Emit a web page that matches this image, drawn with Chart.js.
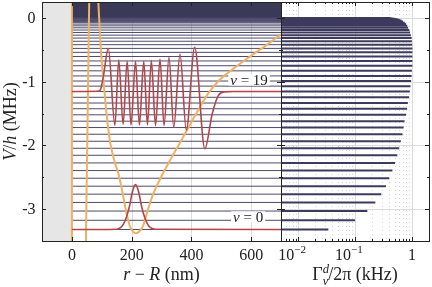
<!DOCTYPE html>
<html>
<head>
<meta charset="utf-8">
<title>bound levels and decay rates</title>
<script src="https://cdn.jsdelivr.net/npm/chart.js@4.4.1/dist/chart.umd.min.js"></script>
<style>
  html, body { margin: 0; padding: 0; background: #fff; }
  #wrap { position: relative; width: 432px; height: 287px; }
  #wrap canvas { position: absolute; left: 0; top: 0; }
</style>
</head>
<body>
<div id="wrap">
  <canvas id="pot" width="432" height="287"></canvas>
  <canvas id="rates" width="432" height="287"></canvas>
</div>
<script>
// bound level energies V/h (MHz), nu = 0, 1, 2, ...
const levelEnergy = [
  -3.32, -3.175, -3.03, -2.895, -2.765, -2.64, -2.515, -2.395, -2.275, -2.155,
  -2.045, -1.935, -1.825, -1.72, -1.62, -1.52, -1.425, -1.335, -1.245, -1.155,
  -1.07, -0.99, -0.91, -0.83, -0.75, -0.675, -0.605, -0.54, -0.478, -0.42,
  -0.366, -0.316, -0.27, -0.228, -0.19, -0.155, -0.124, -0.097, -0.074, -0.055,
  -0.04, -0.028, -0.019, -0.012, -0.007, -0.003
];
// decay rate Gamma_nu^d / 2pi (kHz) of each level
const levelRate = [
  0.034, 0.10, 0.165, 0.228, 0.29, 0.35, 0.40, 0.455, 0.505, 0.555,
  0.60, 0.64, 0.685, 0.715, 0.745, 0.79, 0.825, 0.85, 0.895, 0.92,
  0.945, 0.97, 0.99, 1.0, 1.02, 1.02, 1.02, 1.02, 1.02, 1.01,
  1.0, 0.99, 0.96, 0.93, 0.9, 0.86, 0.83, 0.79, 0.75, 0.70,
  0.66, 0.61, 0.56, 0.51, 0.46, 0.42
];

// potential: surface at r = 0, steep inner wall, then the well
const surfaceR = [0, 0];
const surfaceV = [-3.5, 0.25];
const wallR = [47, 58];
const wallV = [-3.5, 0.25];
const wellR = [88.5, 97, 106, 116, 127, 140, 158, 170, 180, 194, 204, 214, 224, 238, 255, 275, 300, 330, 361, 395, 428, 460, 495, 545, 595, 650, 700];
const wellV = [0.25, -0.5, -1.0, -1.5, -1.92, -2.2, -2.485, -2.75, -3.0, -3.265, -3.35, -3.38, -3.355, -3.265, -3.0, -2.73, -2.485, -2.22, -1.966, -1.68, -1.40, -1.16, -0.97, -0.78, -0.61, -0.43, -0.255];

// wavefunctions drawn on their level
const psi0R = [0, 150, 163, 173, 183, 193, 203, 213, 223, 233, 243, 253, 263, 280, 700];
const psi0V = [-3.32, -3.315, -3.29, -3.23, -3.12, -2.95, -2.72, -2.615, -2.72, -2.95, -3.12, -3.23, -3.29, -3.315, -3.32];
const psi19R = [0, 85, 95, 105, 122, 144, 157, 171.5, 185, 198, 213, 226, 240.6, 253, 266, 280, 295, 308.5, 325, 341, 362, 383, 411, 445, 470, 490, 510, 540, 700];
const psi19V = [-1.155, -1.15, -1.13, -0.93, -0.48, -1.685, -0.66, -1.67, -0.68, -1.68, -0.68, -1.68, -0.68, -1.68, -0.67, -1.69, -0.65, -1.69, -0.62, -1.71, -0.57, -1.76, -0.46, -2.05, -1.5, -1.22, -1.16, -1.155, -1.155];

// shaded regions
const solidR = [-100, 0];
const continuumR = [0, 700];

// axes
const rMin = -100, rMax = 700, vMin = -3.5, vMax = 0.25, gMin = 0.005, gMax = 2;
const rTicks = [0, 200, 400, 600];
const vTicks = [0, -1, -2, -3];
const vMinor = [-0.5, -1.5, -2.5];
const rateTicks = [0.01, 0.1, 1];
const rateTickExp = [-2, -1, 0];
const rateMinor = [];
for (let e = -3; e <= 0; e++) {
  for (let m = 2; m <= 9; m++) {
    const v = m * Math.pow(10, e);
    if (v >= gMin * 0.999 && v <= gMax * 1.001) rateMinor.push(v);
  }
}

// level labels
const nuLabels = [19, 0];
const nuLabelR = [593, 590];
const nuLabelV = [-0.975, -3.12];

const FAMILY = '"Liberation Serif", "Times New Roman", serif';
const INK = '#222222';
const ORANGE = '#efb262';
const RED = '#b3464b';
const NAVY = '#3b3958';
const LEVEL = '#4c4a6c';
const BAR = '#3d3b5d';
const SOLID = '#e6e6e6';

const pts = (xs, ys) => xs.map((x, i) => ({ x: x, y: ys[i] }));

function setFont(ctx, size, italic) {
  ctx.font = (italic ? 'italic ' : '') + size + 'px ' + FAMILY;
}
function richWidth(ctx, segs, size) {
  let w = 0;
  segs.forEach(s => {
    setFont(ctx, size * (s.k || 1), s.it);
    if (!s.stack) w += ctx.measureText(s.t).width;
  });
  return w;
}
function drawRich(ctx, segs, cx, base, size) {
  let x = cx - richWidth(ctx, segs, size) / 2;
  ctx.textAlign = 'left';
  ctx.textBaseline = 'alphabetic';
  segs.forEach(s => {
    setFont(ctx, size * (s.k || 1), s.it);
    ctx.fillText(s.t, x, base + (s.dy || 0) * size);
    if (!s.stack) x += ctx.measureText(s.t).width;
  });
}
const snap = v => Math.round(v) + 0.5;

function frame(ctx, a) {
  ctx.strokeStyle = INK;
  ctx.lineWidth = 1;
  ctx.strokeRect(snap(a.left), snap(a.top), Math.round(a.right) - Math.round(a.left), Math.round(a.bottom) - Math.round(a.top));
}
function xTickMarks(ctx, chart, values, len) {
  const a = chart.chartArea, xs = chart.scales.x;
  ctx.beginPath();
  values.forEach(v => {
    const p = snap(xs.getPixelForValue(v));
    ctx.moveTo(p, a.bottom); ctx.lineTo(p, a.bottom - len);
    ctx.moveTo(p, a.top); ctx.lineTo(p, a.top + len);
  });
  ctx.stroke();
}
function yTickMarks(ctx, chart, values, len) {
  const a = chart.chartArea, ys = chart.scales.y;
  ctx.beginPath();
  values.forEach(v => {
    const p = snap(ys.getPixelForValue(v));
    ctx.moveTo(a.left, p); ctx.lineTo(a.left + len, p);
    ctx.moveTo(a.right, p); ctx.lineTo(a.right - len, p);
  });
  ctx.stroke();
}

const potDecor = {
  id: 'potDecor',
  beforeDatasetsDraw(chart) {
    const { ctx, chartArea: a, scales: { x } } = chart;
    ctx.save();
    ctx.strokeStyle = '#dcdcdc';
    ctx.lineWidth = 1;
    ctx.beginPath();
    rTicks.forEach(v => {
      const p = snap(x.getPixelForValue(v));
      ctx.moveTo(p, a.top); ctx.lineTo(p, a.bottom);
    });
    ctx.stroke();
    ctx.restore();
  },
  afterDatasetsDraw(chart) {
    const { ctx, scales: { x, y } } = chart;
    ctx.save();
    nuLabels.forEach((n, i) => {
      const px = x.getPixelForValue(nuLabelR[i]);
      const py = y.getPixelForValue(nuLabelV[i]);
      const segs = [{ t: 'ν', it: 1 }, { t: ' = ' + n }];
      const w = richWidth(ctx, segs, 15);
      ctx.fillStyle = '#ffffff';
      ctx.fillRect(px - w / 2 - 2, py - 5.5, w + 4, 11);
      ctx.fillStyle = INK;
      drawRich(ctx, segs, px, py + 5, 15);
    });
    ctx.restore();
  },
  afterDraw(chart) {
    const { ctx, chartArea: a, scales: { x, y } } = chart;
    ctx.save();
    frame(ctx, a);
    xTickMarks(ctx, chart, rTicks, 4);
    yTickMarks(ctx, chart, vTicks, 4);
    yTickMarks(ctx, chart, vMinor, 2);
    ctx.fillStyle = INK;
    setFont(ctx, 16, false);
    ctx.textAlign = 'center';
    ctx.textBaseline = 'alphabetic';
    rTicks.forEach(v => ctx.fillText(String(v), x.getPixelForValue(v), 260));
    ctx.textAlign = 'right';
    vTicks.forEach(v => ctx.fillText(String(v), 35.5, y.getPixelForValue(v) + 5));
    drawRich(ctx, [{ t: 'r', it: 1 }, { t: ' − ' }, { t: 'R', it: 1 }, { t: ' (nm)' }], (a.left + a.right) / 2, 280, 18);
    ctx.translate(16, (a.top + a.bottom) / 2);
    ctx.rotate(-Math.PI / 2);
    drawRich(ctx, [{ t: 'V', it: 1 }, { t: '/' }, { t: 'h', it: 1 }, { t: ' (MHz)' }], 0, 0, 18);
    ctx.restore();
  }
};

const rateDecor = {
  id: 'rateDecor',
  beforeDatasetsDraw(chart) {
    const { ctx, chartArea: a, scales: { x, y } } = chart;
    ctx.save();
    ctx.lineWidth = 1;
    ctx.strokeStyle = '#d6d6d6';
    ctx.setLineDash([1, 3]);
    ctx.beginPath();
    rateMinor.forEach(v => {
      const p = snap(x.getPixelForValue(v));
      ctx.moveTo(p, a.top); ctx.lineTo(p, a.bottom);
    });
    ctx.stroke();
    ctx.setLineDash([]);
    ctx.strokeStyle = '#dcdcdc';
    ctx.beginPath();
    rateTicks.forEach(v => {
      const p = snap(x.getPixelForValue(v));
      ctx.moveTo(p, a.top); ctx.lineTo(p, a.bottom);
    });
    vTicks.forEach(v => {
      const p = snap(y.getPixelForValue(v));
      ctx.moveTo(a.left, p); ctx.lineTo(a.right, p);
    });
    ctx.stroke();
    ctx.restore();
  },
  afterDraw(chart) {
    const { ctx, chartArea: a, scales: { x } } = chart;
    ctx.save();
    frame(ctx, a);
    xTickMarks(ctx, chart, rateTicks, 4);
    xTickMarks(ctx, chart, rateMinor, 2);
    yTickMarks(ctx, chart, vTicks, 4);
    yTickMarks(ctx, chart, vMinor, 2);
    ctx.fillStyle = INK;
    rateTicks.forEach((v, i) => {
      const e = rateTickExp[i];
      const segs = e === 0 ? [{ t: '1' }] : [{ t: '10' }, { t: '−' + Math.abs(e), k: 0.7, dy: -0.42 }];
      const shift = e === 0 ? 0 : -6;
      drawRich(ctx, segs, x.getPixelForValue(v) + shift, 260, 16);
    });
    drawRich(ctx, [{ t: 'Γ' }, { t: 'd', it: 1, k: 0.7, dy: -0.4, stack: 1 }, { t: 'ν', it: 1, k: 0.7, dy: 0.25 }, { t: '/2π (kHz)' }], (a.left + a.right) / 2, 280, 18);
    ctx.restore();
  }
};

// left panel datasets (lower order is drawn on top)
const potSets = [];
potSets.push({ data: pts(psi19R, psi19V), borderColor: RED, borderWidth: 1.6, cubicInterpolationMode: 'monotone', order: 1 });
potSets.push({ data: pts(psi0R, psi0V), borderColor: RED, borderWidth: 1.6, cubicInterpolationMode: 'monotone', order: 1 });
potSets.push({ data: pts(wellR, wellV), borderColor: ORANGE, borderWidth: 2, cubicInterpolationMode: 'monotone', order: 2 });
potSets.push({ data: pts(wallR, wallV), borderColor: ORANGE, borderWidth: 2, order: 2 });
potSets.push({ data: pts(surfaceR, surfaceV), borderColor: ORANGE, borderWidth: 2, order: 2 });
levelEnergy.forEach(E => {
  potSets.push({ data: pts(continuumR, [E, E]), borderColor: LEVEL, borderWidth: 1, order: 3 });
});
potSets.push({ data: pts(continuumR, [vMax, vMax]), borderWidth: 0, backgroundColor: NAVY, fill: { value: 0 }, order: 4 });
potSets.push({ data: pts(solidR, [vMax, vMax]), borderWidth: 0, backgroundColor: SOLID, fill: 'start', order: 5 });

// right panel: one bar per level
const rateSets = levelEnergy.map((E, i) => ({
  data: [{ x: gMin, y: E }, { x: levelRate[i], y: E }],
  borderColor: BAR,
  borderWidth: 2
}));

const common = {
  responsive: false,
  animation: false,
  events: [],
  elements: { point: { radius: 0 }, line: { tension: 0, borderCapStyle: 'butt' } },
  plugins: { legend: { display: false }, tooltip: { enabled: false } }
};

new Chart(document.getElementById('pot'), {
  type: 'line',
  data: { datasets: potSets },
  options: Object.assign({}, common, {
    layout: { padding: { top: 2, right: 151, left: 0, bottom: 0 } },
    scales: {
      x: { type: 'linear', min: rMin, max: rMax, ticks: { display: false }, grid: { display: false }, border: { display: false }, afterFit: s => { s.height = 46; } },
      y: { type: 'linear', min: vMin, max: vMax, ticks: { display: false }, grid: { display: false }, border: { display: false }, afterFit: s => { s.width = 42; } }
    }
  }),
  plugins: [potDecor]
});

new Chart(document.getElementById('rates'), {
  type: 'line',
  data: { datasets: rateSets },
  options: Object.assign({}, common, {
    layout: { padding: { top: 2, right: 3, left: 281, bottom: 0 } },
    scales: {
      x: { type: 'logarithmic', min: gMin, max: gMax, ticks: { display: false }, grid: { display: false }, border: { display: false }, afterFit: s => { s.height = 46; } },
      y: { type: 'linear', display: false, min: vMin, max: vMax }
    }
  }),
  plugins: [rateDecor]
});
</script>
</body>
</html>
